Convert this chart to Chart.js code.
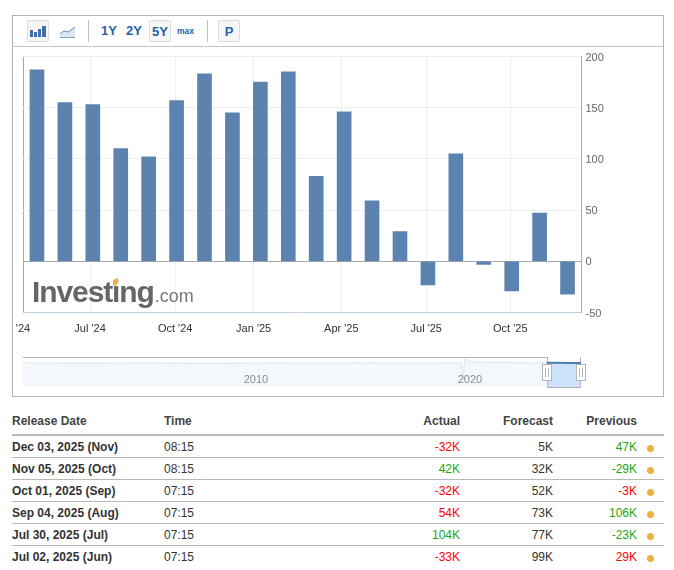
<!DOCTYPE html>
<html><head><meta charset="utf-8">
<script src="https://cdn.jsdelivr.net/npm/chart.js@4/dist/chart.umd.min.js"></script>
<style>
html,body{margin:0;padding:0;background:#fff;width:674px;height:570px;overflow:hidden;font-family:"Liberation Sans",Arial,sans-serif;}
.a{position:absolute;}
canvas{position:absolute;display:block;}
.btn{position:absolute;top:20px;height:20px;box-sizing:content-box;text-align:center;line-height:22px;color:#2563a8;font-weight:700;font-size:13px;}
.on{background:#f6f6f6;border:1px solid #dcdcdc;border-radius:2px;}
.h{position:absolute;top:364px;width:8px;height:15px;background:#fff;border:1px solid #b3b3b3;}
.h i{position:absolute;top:3px;height:9px;width:1px;background:#b3b3b3;}
table{position:absolute;left:12px;top:410px;width:652px;border-collapse:collapse;table-layout:fixed;font-size:12px;color:#333;}
td,th{padding:0;white-space:nowrap;font-weight:400;}
td{height:19px;padding-top:2px;line-height:19px;border-bottom:1px solid #b8b8b8;}
th{font-weight:700;color:#444;border-bottom:2px solid #b8b8b8;height:24px;line-height:22px;vertical-align:top;text-align:left;}
tr:last-child td{border-bottom:none;}
.d{font-weight:700;}
.r{text-align:right;}
th.r{text-align:right;}
.red{color:#ff0000;}.grn{color:#22a60f;}
.dot{display:inline-block;width:7px;height:7px;border-radius:50%;background:#eeb03f;margin-left:10px;vertical-align:-0.5px;}
</style></head><body>
<div class="a" style="left:12px;top:15px;width:650px;height:380px;border:1px solid #b3b3b3;"></div>
<div class="a" style="left:13px;top:46px;width:650px;height:1px;background:#c4c4c4;"></div>

<div class="btn on" style="left:27px;width:20px;"><svg width="20" height="20" style="display:block"><g fill="#3f6ea8"><rect x="2" y="9" width="3" height="7"/><rect x="6" y="11" width="3" height="5"/><rect x="10" y="8" width="3" height="8"/><rect x="14" y="5" width="4" height="11"/></g></svg></div>
<div class="a" style="left:60px;top:26px;"><svg width="16" height="13" style="display:block"><path d="M0 8 L4 5 L8 6 L11 4 L15 1 L15 11 L0 11Z" fill="#dce6f0"/><path d="M0 8 L4 5 L8 6 L11 4 L15 1" fill="none" stroke="#5f86b3" stroke-width="1"/><rect x="0" y="11" width="15" height="1" fill="#8f9fb3"/></svg></div>
<div class="a" style="left:88px;top:20px;width:1px;height:22px;background:#c0c0c0;"></div>
<div class="btn" style="left:100px;width:18px;">1Y</div>
<div class="btn" style="left:125px;width:18px;">2Y</div>
<div class="btn on" style="left:149px;width:20px;">5Y</div>
<div class="btn" style="left:175px;width:21px;font-size:8.5px;">max</div>
<div class="a" style="left:207px;top:20px;width:1px;height:22px;background:#c0c0c0;"></div>
<div class="btn on" style="left:218px;width:20px;">P</div>

<canvas id="main" width="674" height="350" style="left:0;top:0;width:674px;height:350px;"></canvas>

<div class="a" style="left:32px;top:273px;height:38px;line-height:38px;white-space:nowrap;color:#666;font-weight:700;font-size:30px;letter-spacing:-1.1px;pointer-events:none;">Investing<span style="font-weight:400;font-size:18px;letter-spacing:0;color:#777;margin-left:1px;">.com</span></div>
<div class="a" style="left:113px;top:279px;width:5px;height:6px;background:#f0b040;transform:skewY(-25deg);"></div>

<div class="a" style="left:23px;top:357px;width:524px;height:1px;background:#b3b3b3;"></div>
<div class="a" style="left:547px;top:363px;width:33px;height:24px;background:#cde2fb;"></div>
<div class="a" style="left:547px;top:357px;width:1px;height:31px;background:#b3b3b3;"></div>
<div class="a" style="left:580px;top:357px;width:1px;height:31px;background:#b3b3b3;"></div>
<div class="a" style="left:547px;top:387px;width:34px;height:1px;background:#b3b3b3;"></div>
<canvas id="nav" width="558" height="29" style="left:23px;top:358px;width:558px;height:29px;"></canvas>
<div class="a" style="left:236px;top:372px;width:40px;text-align:center;font-size:11px;color:#8c8c8c;line-height:14px;">2010</div>
<div class="a" style="left:450px;top:372px;width:40px;text-align:center;font-size:11px;color:#8c8c8c;line-height:14px;">2020</div>
<div class="h" style="left:542px;"><i style="left:2px"></i><i style="left:5px"></i></div>
<div class="h" style="left:576px;"><i style="left:2px"></i><i style="left:5px"></i></div>

<table id="tbl"><colgroup><col style="width:152px"><col style="width:200px"><col style="width:96px"><col style="width:93px"><col style="width:84px"><col></colgroup>
<thead><tr><th>Release Date</th><th>Time</th><th class="r">Actual</th><th class="r">Forecast</th><th class="r">Previous</th><th></th></tr></thead><tbody id="tb"></tbody></table>

<script>
// Bar chart values (thousands), oldest to newest
const barValues = [187,155,153,110,102,157,183,145,175,185,83,146,59,29,-23,105,-3,-29,47,-32];
// Point index of each bar along the ordinal time axis
const barPositions = [0,1,2,3,4,5,6,7,8,9,10,11,12,13,14,15,16,17,18,19];
const xTickPositions = [-0.5,1.9,4.95,7.76,10.9,13.94,16.95];
const xTickLabels = ["'24","Jul '24","Oct '24","Jan '25","Apr '25","Jul '25","Oct '25"];
const yTicks = [-50,0,50,100,150,200];

// Navigator (year, value in thousands)
const navYears = [1999.2,2002,2005,2008,2010,2012,2015,2018,2019.5,2019.62,2019.7,2019.78,2019.88,2020,2021,2022,2023,2023.6,2024,2024.6,2025.2];
const navValues = [100,-100,150,-450,50,180,220,190,100,-150,-19500,3800,4300,1200,500,400,150,180,160,120,40];

// Table
const releaseDates = ["Dec 03, 2025 (Nov)","Nov 05, 2025 (Oct)","Oct 01, 2025 (Sep)","Sep 04, 2025 (Aug)","Jul 30, 2025 (Jul)","Jul 02, 2025 (Jun)"];
const releaseTimes = ["08:15","08:15","07:15","07:15","07:15","07:15"];
const actualValues = ["-32K","42K","-32K","54K","104K","-33K"];
const actualClass = ["red","grn","red","red","grn","red"];
const forecastValues = ["5K","32K","52K","73K","77K","99K"];
const previousValues = ["47K","-29K","-3K","106K","-23K","29K"];
const previousClass = ["grn","grn","red","grn","grn","red"];

document.getElementById('tb').innerHTML = releaseDates.map((d,i)=>
 `<tr><td class="d">${d}</td><td>${releaseTimes[i]}</td><td class="r ${actualClass[i]}">${actualValues[i]}</td><td class="r">${forecastValues[i]}</td><td class="r ${previousClass[i]}">${previousValues[i]}</td><td><span class="dot"></span></td></tr>`).join('');

Chart.defaults.font.family = '"Liberation Sans", Arial, sans-serif';
Chart.defaults.animation = false;

new Chart(document.getElementById('main'), {
  type:'bar',
  data:{datasets:[{data:barPositions.map((x,i)=>({x:x,y:barValues[i]})),backgroundColor:'#5c83af',barThickness:14,borderWidth:0}]},
  options:{
    responsive:false,devicePixelRatio:1,
    layout:{padding:{left:23,top:56.5,right:0,bottom:0}},
    plugins:{legend:{display:false},tooltip:{enabled:false}},
    scales:{
      x:{type:'linear',offset:false,min:-0.5,max:19.5,
        afterBuildTicks:s=>{s.ticks=xTickPositions.map(v=>({value:v}));},
        afterFit:s=>{s.height=37.5;},
        ticks:{autoSkip:false,maxRotation:0,minRotation:0,padding:10,color:'#333',font:{size:11},
          callback:v=>xTickLabels[xTickPositions.indexOf(v)]},
        grid:{offset:false,drawTicks:false,color:c=>c.tick&&c.tick.value===-0.5?'#aaaaaa':'#efefef',lineWidth:1},
        border:{color:'#c0d0e4',width:1}},
      y:{type:'linear',position:'right',min:-50,max:200,
        afterBuildTicks:s=>{s.ticks=yTicks.map(v=>({value:v}));},
        afterFit:s=>{s.width=92.5;},
        ticks:{padding:4,labelOffset:1,color:'#666',font:{size:11},callback:v=>String(v)},
        grid:{drawTicks:false,color:c=>c.tick&&c.tick.value===0?'#aaaaaa':'#efefef',lineWidth:1},
        border:{color:'#aaaaaa',width:1}}
    }
  }
});

new Chart(document.getElementById('nav'), {
  type:'line',
  data:{datasets:[{data:navYears.map((x,i)=>({x:x,y:navValues[i]})),borderWidth:1,pointRadius:0,tension:0,fill:'start',
    borderColor:'#d9e6f4',backgroundColor:'#f4f8fd',
    segment:{borderWidth:c=>c.p0.parsed.x>=2023.6?2:1,borderColor:c=>c.p0.parsed.x>=2023.6?'#4f7cb0':'#d9e6f4',backgroundColor:c=>c.p0.parsed.x>=2023.6?'rgba(0,0,0,0)':'#f4f8fd'}}]},
  options:{responsive:false,devicePixelRatio:1,layout:{padding:0},
    plugins:{legend:{display:false},tooltip:{enabled:false}},
    scales:{x:{type:'linear',display:false,min:1999.2,max:2025.2},y:{type:'linear',display:false,min:-24000,max:5000}}}
});
</script>
</body></html>
